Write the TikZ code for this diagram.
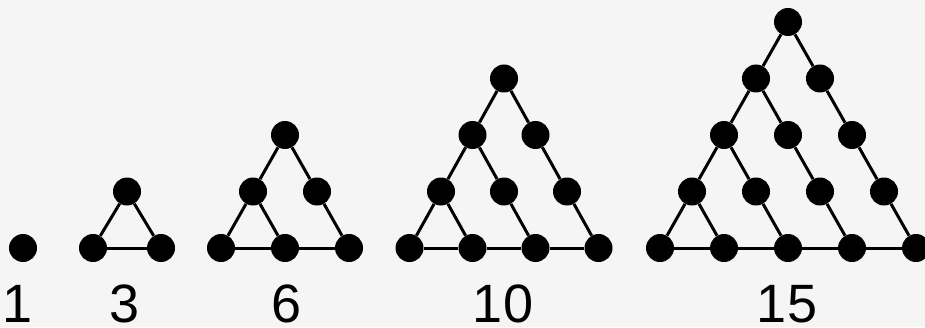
\documentclass[tikz,border=0pt]{standalone}
\usepackage{fontspec}
\setmainfont{Liberation Sans}
\begin{document}
\begin{tikzpicture}[x=1pt,y=1pt,
  dot/.style={circle,fill=black,minimum size=28pt,inner sep=0pt},
  edge/.style={line width=3pt,black},
  lab/.style={anchor=base,font=\fontsize{54}{54}\selectfont,inner sep=0pt}]
\useasboundingbox (0,0) rectangle (925,327);
\fill[black!4] (0,0) rectangle (925,327);
\foreach \n/\cx/\sp in {1/23/64, 2/127/68, 3/285/64, 4/504/63, 5/788/64} {
  \pgfmathtruncatemacro\last{\n-1}
  \foreach \r in {0,...,\last} {
    \foreach \k in {0,...,\r} {
      \node[dot] (t\n-\r-\k) at ({\cx+(\k-\r/2)*\sp}, {79+(\last-\r)*56.5}) {};
    }
  }
  \ifnum\n>1
    \pgfmathtruncatemacro\lm{\last-1}
    \foreach \r in {0,...,\lm} {
      \pgfmathtruncatemacro\rr{\r+1}
      \draw[edge] (t\n-\r-0) -- (t\n-\rr-0);
      \foreach \k in {0,...,\r} {
        \pgfmathtruncatemacro\kk{\k+1}
        \draw[edge] (t\n-\r-\k) -- (t\n-\rr-\kk);
      }
    }
    \foreach \k in {0,...,\lm} {
      \pgfmathtruncatemacro\kk{\k+1}
      \draw[edge] (t\n-\last-\k) -- (t\n-\last-\kk);
    }
  \fi
}
\node[lab] (l1) at (18,5) {1};
\node[lab] (l3) at (125,5) {3};
\node[lab] (l6) at (287,5) {6};
\node[lab] (l10) at (503,5) {10};
\node[lab] (l15) at (787,5) {15};
\end{tikzpicture}
\end{document}
